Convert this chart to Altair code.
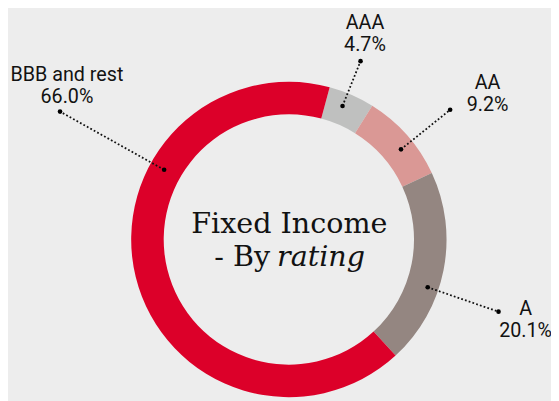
import altair as alt
import numpy as np
import pandas as pd

# ---- data ----
categories = ["AAA", "AA", "A", "BBB and rest"]
shares = [4.7, 9.2, 20.1, 66.0]
share_labels = ["4.7%", "9.2%", "20.1%", "66.0%"]

# ---- styling / layout ----
colors = ["#bfc0bf", "#da9895", "#948681", "#dc0029"]
BG = "#ededed"
W, H = 551, 393
CX, CY = 285, 232
R_OUT, R_IN = 160, 127
START = np.deg2rad(15)

# leader lines (polar, degrees clockwise from 12 o'clock) and label offsets
leader_angle = [21.9, 51.2, 109.0, 299.2]
leader_r0 = [146, 146, 149, 145]
leader_r1 = [195, 210, 225, 266]
text_dx = [4.5, 38, 27.5, 7]
text_dy = [-33, -21, 3.7, -30.7]
LINE_GAP = 22.4

donut_df = pd.DataFrame({"category": categories, "share": shares, "order": list(range(len(categories)))})

donut = alt.Chart(donut_df).mark_arc(outerRadius=R_OUT, innerRadius=R_IN, strokeWidth=0).encode(
    theta=alt.Theta("share:Q", stack=True, scale=alt.Scale(range=[START, START + 2 * np.pi])),
    color=alt.Color("category:N", scale=alt.Scale(domain=categories, range=colors), legend=None),
    order=alt.Order("order:Q"),
    x=alt.value(CX),
    y=alt.value(CY),
)

ang = np.deg2rad(np.array(leader_angle))
x0 = CX + np.array(leader_r0) * np.sin(ang)
y0 = CY - np.array(leader_r0) * np.cos(ang)
x1 = CX + np.array(leader_r1) * np.sin(ang)
y1 = CY - np.array(leader_r1) * np.cos(ang)

lead_df = pd.DataFrame({"x0": x0, "y0": y0, "x1": x1, "y1": y1, "category": categories})
dots_df = pd.DataFrame({"x": np.concatenate([x0, x1]), "y": np.concatenate([y0, y1])})

xs = alt.Scale(domain=[0, W], nice=False, zero=False)
ys = alt.Scale(domain=[H, 0], nice=False, zero=False)

leaders = alt.Chart(lead_df).mark_rule(color="#111111", strokeWidth=1.8, strokeDash=[1.8, 2.2]).encode(
    x=alt.X("x0:Q", scale=xs, axis=None),
    y=alt.Y("y0:Q", scale=ys, axis=None),
    x2="x1:Q",
    y2="y1:Q",
)

dots = alt.Chart(dots_df).mark_circle(color="#000000", size=22, opacity=1).encode(
    x=alt.X("x:Q", scale=xs, axis=None),
    y=alt.Y("y:Q", scale=ys, axis=None),
)

rows = []
for i, c in enumerate(categories):
    tx = x1[i] + text_dx[i]
    ty = y1[i] + text_dy[i]
    rows.append({"x": tx, "y": ty, "t": c})
    rows.append({"x": tx, "y": ty + LINE_GAP, "t": share_labels[i]})
lab_df = pd.DataFrame(rows)

labels = alt.Chart(lab_df).mark_text(
    font="Roboto", fontSize=20, align="center", baseline="alphabetic", color="#121212"
).encode(
    x=alt.X("x:Q", scale=xs, axis=None),
    y=alt.Y("y:Q", scale=ys, axis=None),
    text="t:N",
)

# centre title
title_df = pd.DataFrame({"x": [CX + 0.5], "y": [CY - 6.5], "t": ["Fixed Income"]})
title1 = alt.Chart(title_df).mark_text(
    font="DejaVu Serif", fontSize=29, align="center", baseline="alphabetic", color="#121212"
).encode(x=alt.X("x:Q", scale=xs, axis=None), y=alt.Y("y:Q", scale=ys, axis=None), text="t:N")

t2a_df = pd.DataFrame({"x": [CX - 19], "y": [CY + 27], "t": ["- By"]})
title2a = alt.Chart(t2a_df).mark_text(
    font="DejaVu Serif", fontSize=29, align="right", baseline="alphabetic", color="#121212"
).encode(x=alt.X("x:Q", scale=xs, axis=None), y=alt.Y("y:Q", scale=ys, axis=None), text="t:N")

t2b_df = pd.DataFrame({"x": [CX - 12], "y": [CY + 27], "t": ["rating"]})
title2b = alt.Chart(t2b_df).mark_text(
    font="DejaVu Serif", fontSize=29, fontStyle="italic", align="left", baseline="alphabetic", color="#121212"
).encode(x=alt.X("x:Q", scale=xs, axis=None), y=alt.Y("y:Q", scale=ys, axis=None), text="t:N")

chart = alt.layer(donut, leaders, dots, labels, title1, title2a, title2b).properties(
    width=W, height=H, background=BG, padding=0, autosize=alt.AutoSizeParams(type="none")
).configure_view(stroke=None)

chart.save("out.html", embed_options={"renderer": "svg", "actions": False})
